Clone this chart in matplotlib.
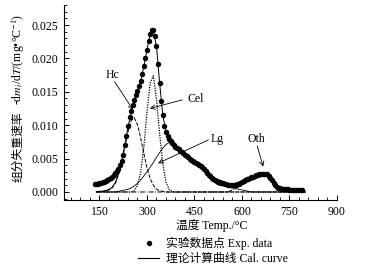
import matplotlib
matplotlib.use("Agg")
import matplotlib.pyplot as plt
from matplotlib.lines import Line2D
from matplotlib.ticker import MultipleLocator, FormatStrFormatter

plt.rcParams['font.family'] = ['Liberation Serif', 'Noto Sans CJK SC', 'DejaVu Sans']
plt.rcParams['mathtext.fontset'] = 'stix'

# Experimental points (T every 5 °C from 135 to 790), values in mg/°C
exp_T = list(range(135, 795, 5))
exp_v = [
    0.00120, 0.00120, 0.00125, 0.00130, 0.00135, 0.00145, 0.00155, 0.00165, 0.00180, 0.00195,
    0.00210, 0.00230, 0.00255, 0.00280, 0.00310, 0.00350, 0.00400, 0.00470, 0.00560, 0.00700,
    0.00840, 0.00990, 0.01120, 0.01220, 0.01300, 0.01380, 0.01450, 0.01510, 0.01580, 0.01660,
    0.01760, 0.01880, 0.02000, 0.02130, 0.02260, 0.02370, 0.02430, 0.02420, 0.02340, 0.02180,
    0.01920, 0.01630, 0.01360, 0.01150, 0.00990, 0.00900, 0.00840, 0.00790, 0.00760, 0.00730,
    0.00700, 0.00680, 0.00660, 0.00640, 0.00620, 0.00600, 0.00580, 0.00560, 0.00540, 0.00520,
    0.00500, 0.00485, 0.00470, 0.00455, 0.00440, 0.00425, 0.00410, 0.00395, 0.00370, 0.00345,
    0.00315, 0.00285, 0.00260, 0.00235, 0.00215, 0.00195, 0.00180, 0.00165, 0.00155, 0.00145,
    0.00135, 0.00130, 0.00120, 0.00115, 0.00110, 0.00105, 0.00105, 0.00105, 0.00105, 0.00110,
    0.00115, 0.00125, 0.00135, 0.00150, 0.00160, 0.00175, 0.00190, 0.00200, 0.00210, 0.00220,
    0.00230, 0.00240, 0.00250, 0.00260, 0.00265, 0.00270, 0.00275, 0.00275, 0.00275, 0.00265,
    0.00245, 0.00215, 0.00180, 0.00140, 0.00105, 0.00080, 0.00065, 0.00055, 0.00050, 0.00045,
    0.00042, 0.00040, 0.00038, 0.00037, 0.00036, 0.00035, 0.00035, 0.00034, 0.00034, 0.00033,
    0.00033, 0.00032,
]

# Calculated curves (T every 10 °C from 140 to 800)
calc_T = list(range(140, 810, 10))
hc_v = [
    0.0000, 0.0001, 0.0001, 0.0002, 0.0003, 0.0006, 0.0013, 0.0026, 0.0044, 0.0067,
    0.0090, 0.0107, 0.0111, 0.0101, 0.0081, 0.0058, 0.0036, 0.0020, 0.0010, 0.0004,
    0.0002, 0.0001, 0.0000, 0.0000, 0.0000, 0.0000, 0.0000, 0.0000, 0.0000, 0.0000,
    0.0000, 0.0000, 0.0000, 0.0000, 0.0000, 0.0000, 0.0000, 0.0000, 0.0000, 0.0000,
    0.0000, 0.0000, 0.0000, 0.0000, 0.0000, 0.0000, 0.0000, 0.0000, 0.0000, 0.0000,
    0.0000, 0.0000, 0.0000, 0.0000, 0.0000, 0.0000, 0.0000, 0.0000, 0.0000, 0.0000,
    0.0000, 0.0000, 0.0000, 0.0000, 0.0000, 0.0000, 0.0000,
]
cel_v = [
    0.0000, 0.0000, 0.0000, 0.0000, 0.0000, 0.0000, 0.0000, 0.0000, 0.0000, 0.0000,
    0.0000, 0.0000, 0.0002, 0.0010, 0.0029, 0.0067, 0.0119, 0.0163, 0.0174, 0.0139,
    0.0087, 0.0042, 0.0015, 0.0004, 0.0001, 0.0000, 0.0000, 0.0000, 0.0000, 0.0000,
    0.0000, 0.0000, 0.0000, 0.0000, 0.0000, 0.0000, 0.0000, 0.0000, 0.0000, 0.0000,
    0.0000, 0.0000, 0.0000, 0.0000, 0.0000, 0.0000, 0.0000, 0.0000, 0.0000, 0.0000,
    0.0000, 0.0000, 0.0000, 0.0000, 0.0000, 0.0000, 0.0000, 0.0000, 0.0000, 0.0000,
    0.0000, 0.0000, 0.0000, 0.0000, 0.0000, 0.0000, 0.0000,
]
lg_v = [
    0.0000, 0.0000, 0.0000, 0.0000, 0.0000, 0.0000, 0.0000, 0.0001, 0.0002, 0.0003,
    0.0004, 0.0006, 0.0009, 0.0013, 0.0018, 0.0024, 0.0030, 0.0037, 0.0044, 0.0052,
    0.0059, 0.0066, 0.0071, 0.0074, 0.0073, 0.0069, 0.0064, 0.0060, 0.0056, 0.0052,
    0.0048, 0.0045, 0.0042, 0.0038, 0.0033, 0.0027, 0.0021, 0.0016, 0.0012, 0.0010,
    0.0009, 0.0008, 0.0007, 0.0006, 0.0005, 0.0004, 0.0003, 0.0002, 0.0001, 0.0000,
    0.0000, 0.0000, 0.0000, 0.0000, 0.0000, 0.0000, 0.0000, 0.0000, 0.0000, 0.0000,
    0.0000, 0.0000, 0.0000, 0.0000, 0.0000, 0.0000, 0.0000,
]
oth_v = [
    0.0000, 0.0000, 0.0000, 0.0000, 0.0000, 0.0000, 0.0000, 0.0000, 0.0000, 0.0000,
    0.0000, 0.0000, 0.0000, 0.0000, 0.0000, 0.0000, 0.0000, 0.0000, 0.0000, 0.0000,
    0.0000, 0.0000, 0.0000, 0.0000, 0.0000, 0.0000, 0.0000, 0.0000, 0.0000, 0.0000,
    0.0000, 0.0000, 0.0000, 0.0000, 0.0000, 0.0000, 0.0000, 0.0000, 0.0000, 0.0000,
    0.0000, 0.0000, 0.0001, 0.0003, 0.0005, 0.0008, 0.0011, 0.0014, 0.0017, 0.0020,
    0.0022, 0.0024, 0.0026, 0.0027, 0.0026, 0.0021, 0.0014, 0.0008, 0.0004, 0.0002,
    0.0001, 0.0000, 0.0000, 0.0000, 0.0000, 0.0000, 0.0000,
]
calc_v = [
    0.0000, 0.0001, 0.0001, 0.0002, 0.0004, 0.0007, 0.0014, 0.0027, 0.0046, 0.0070,
    0.0097, 0.0119, 0.0137, 0.0151, 0.0166, 0.0188, 0.0213, 0.0237, 0.0242, 0.0218,
    0.0163, 0.0115, 0.0090, 0.0080, 0.0074, 0.0069, 0.0064, 0.0060, 0.0056, 0.0052,
    0.00485, 0.00455, 0.00425, 0.00395, 0.00345, 0.00285, 0.00235, 0.00195, 0.00165, 0.00145,
    0.0013, 0.00115, 0.00105, 0.00105, 0.0011, 0.00125, 0.0015, 0.00175, 0.0020, 0.0022,
    0.0024, 0.0026, 0.0027, 0.00275, 0.00265, 0.00215, 0.0014, 0.0008, 0.0004, 0.0002,
    0.0001, 0.0000, 0.0000, 0.0000, 0.0000, 0.0000, 0.0000,
]

x_ticks = [150, 300, 450, 600, 750, 900]

fig = plt.figure(figsize=(3.69, 2.73), dpi=100)
ax = fig.add_axes([64/369, 1-200/273, (337-64)/369, (200-5)/273])

lw = 0.7
ax.plot(calc_T, oth_v, color='black', lw=lw, ls=(0, (5, 1.5, 1, 1.5)))
ax.plot(calc_T, lg_v, color='black', lw=0.6, ls='-')
ax.plot(calc_T, hc_v, color='black', lw=lw, ls=(0, (4, 1.5)))
ax.plot(calc_T, cel_v, color='black', lw=0.9, ls=(0, (1, 1)))
ax.plot(calc_T, calc_v, color='black', lw=0.7, ls='-')
ax.plot(exp_T, exp_v, 'o', color='black', ms=3.9, mec='black', mew=0)

ax.set_xlim(38, 900)
ax.set_ylim(-0.0012, 0.028)
ax.set_xticks(x_ticks)
ax.xaxis.set_minor_locator(MultipleLocator(30))
ax.yaxis.set_major_locator(MultipleLocator(0.005))
ax.yaxis.set_minor_locator(MultipleLocator(0.001))
ax.yaxis.set_major_formatter(FormatStrFormatter('%.3f'))
ax.spines['top'].set_visible(False)
ax.spines['right'].set_visible(False)
for s in ('left', 'bottom'):
    ax.spines[s].set_linewidth(0.8)
ax.tick_params(which='major', direction='in', length=3.5, width=0.7, labelsize=8.5, pad=4)
ax.tick_params(which='minor', direction='in', length=2, width=0.6)

arrow = dict(arrowstyle='->', lw=0.6, color='black', shrinkA=0, shrinkB=0,
             mutation_scale=8)
fs = 8.5
ax.text(192, 0.0175, 'Hc', ha='center', va='center', fontsize=fs)
ax.annotate('', xy=(256, 0.0123), xytext=(198, 0.0165), arrowprops=arrow)
ax.text(428, 0.0139, 'Cel', ha='left', va='center', fontsize=fs)
ax.annotate('', xy=(309, 0.0125), xytext=(412, 0.0138), arrowprops=arrow)
ax.text(500, 0.0079, 'Lg', ha='left', va='center', fontsize=fs)
ax.annotate('', xy=(335, 0.0043), xytext=(494, 0.0078), arrowprops=arrow)
ax.text(646, 0.0079, 'Oth', ha='center', va='center', fontsize=fs)
ax.annotate('', xy=(667, 0.0038), xytext=(648, 0.0069), arrowprops=arrow)

# y label: Chinese part and math part drawn as two pieces
fig.text(18/369, 1-182/273, '组分失重速率', rotation=90, ha='center', va='bottom',
         fontsize=8.5)
fig.text(18/369, 1-105/273, r'-d$m_i$/d$T$/(mg•°C$^{-1}$)', rotation=90,
         ha='center', va='bottom', fontsize=8.5)
fig.text(212/369, 1-225/273, '温度 Temp./°C', ha='center', va='center', fontsize=8.5)

handles = [Line2D([], [], marker='o', ls='none', color='black', ms=3.9, mew=0),
           Line2D([], [], ls='-', color='black', lw=0.8)]
fig.legend(handles, ['实验数据点 Exp. data', '理论计算曲线 Cal. curve'],
           loc='center', bbox_to_anchor=(213/369, 1-251/273), frameon=False,
           fontsize=8.5, handlelength=1.8, handletextpad=0.6, labelspacing=0.25,
           borderpad=0)

fig.savefig('out.png', dpi=100)
